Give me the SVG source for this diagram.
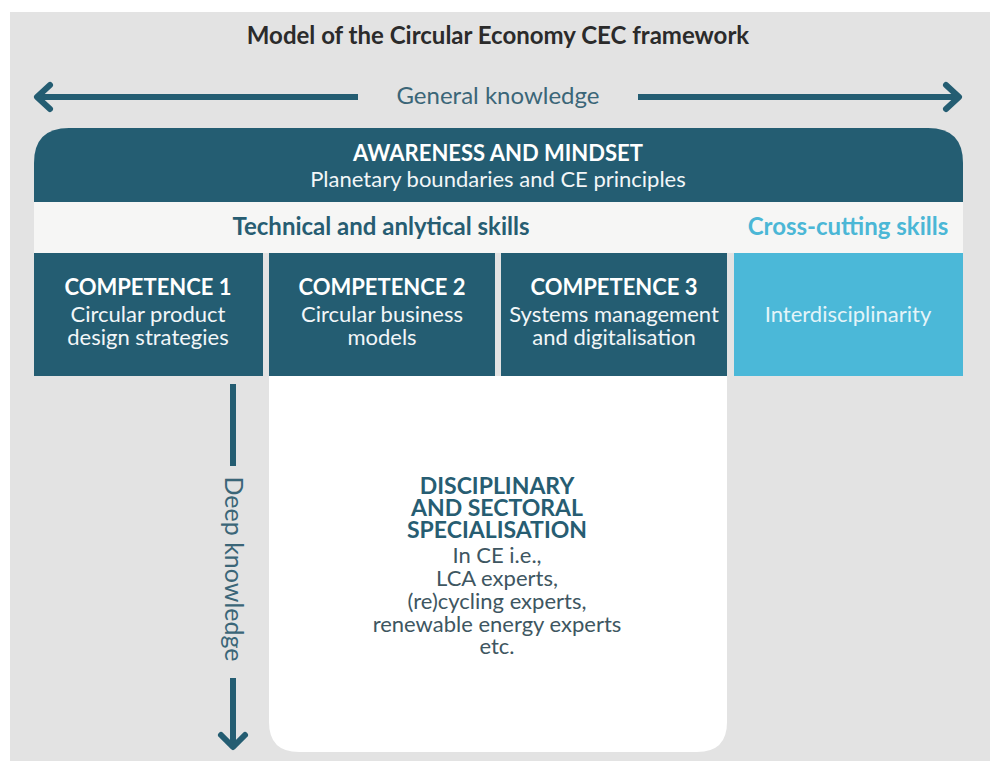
<svg xmlns="http://www.w3.org/2000/svg" width="996" height="761" viewBox="0 0 996 761">
  <style>
    text { font-family: Lato, "Open Sans", "Liberation Sans", sans-serif; text-anchor: middle; }
    .title { font-size: 24px; font-weight: 700; fill: #2b2b2b; }
    .axis { font-size: 24px; fill: #3b6678; }
    .hd { font-size: 22px; font-weight: 700; fill: #ffffff; }
    .sub { font-size: 22px; fill: #f2f6f8; }
    .band { font-size: 24px; font-weight: 700; }
    .spec { font-size: 23px; font-weight: 700; fill: #275d72; }
    .body { font-size: 22px; fill: #3e5661; }
    .dark { fill: #245d72; }
    .line { stroke: #245d72; stroke-width: 6; fill: none; }
    .head { stroke: #245d72; stroke-width: 6; fill: none; stroke-linecap: round; stroke-linejoin: round; }
  </style>

  <!-- page backdrop -->
  <rect x="0" y="0" width="996" height="761" fill="#ffffff"/>
  <rect x="10" y="12" width="980" height="749" fill="#e3e3e3"/>

  <text class="title" x="498" y="44">Model of the Circular Economy CEC framework</text>

  <!-- axes -->
  <g id="connectors">
    <line class="line" x1="38" y1="97" x2="358" y2="97"/>
    <polyline class="head" points="50,85 37,97 50,109"/>
    <line class="line" x1="638" y1="97" x2="958" y2="97"/>
    <polyline class="head" points="946,85 959,97 946,109"/>
    <line class="line" x1="233" y1="384" x2="233" y2="466"/>
    <line class="line" x1="233" y1="678" x2="233" y2="746"/>
    <polyline class="head" points="221,735 233,747 245,735"/>
  </g>
  <text class="axis" x="498" y="104">General knowledge</text>
  <text class="axis" style="font-size:25px" transform="translate(225 569) rotate(90)">Deep knowledge</text>

  <g id="awareness">
    <path class="dark" d="M34 202 V163 Q34 128 69 128 H928 Q963 128 963 163 V202 Z"/>
    <text class="hd" x="498" y="161">AWARENESS AND MINDSET</text>
    <text class="sub" x="498" y="187">Planetary boundaries and CE principles</text>
  </g>

  <g id="skills-band">
    <rect x="34" y="202" width="929" height="51" fill="#f6f6f5"/>
    <text class="band" x="381" y="235" fill="#275d72">Technical and anlytical skills</text>
    <text class="band" x="848" y="235" fill="#4bb7d6">Cross-cutting skills</text>
  </g>

  <g id="competence-1">
    <rect class="dark" x="34" y="253" width="229" height="123"/>
    <text class="hd" x="148" y="295">COMPETENCE 1</text>
    <text class="sub" x="148" y="322">Circular product</text>
    <text class="sub" x="148" y="345">design strategies</text>
  </g>

  <g id="competence-2">
    <rect class="dark" x="269" y="253" width="226" height="123"/>
    <text class="hd" x="382" y="295">COMPETENCE 2</text>
    <text class="sub" x="382" y="322">Circular business</text>
    <text class="sub" x="382" y="345">models</text>
  </g>

  <g id="competence-3">
    <rect class="dark" x="501" y="253" width="226" height="123"/>
    <text class="hd" x="614" y="295">COMPETENCE 3</text>
    <text class="sub" x="614" y="322">Systems management</text>
    <text class="sub" x="614" y="345">and digitalisation</text>
  </g>

  <g id="interdisciplinarity">
    <rect x="734" y="253" width="229" height="123" fill="#4bb8d8"/>
    <text class="sub" x="848" y="322" style="fill:#e4f4f9">Interdisciplinarity</text>
  </g>

  <g id="specialisation">
    <path d="M269 376 H727 V722 Q727 752 697 752 H299 Q269 752 269 722 Z" fill="#ffffff"/>
    <text class="spec" x="497" y="494">DISCIPLINARY</text>
    <text class="spec" x="497" y="516">AND SECTORAL</text>
    <text class="spec" x="497" y="538">SPECIALISATION</text>
    <text class="body" x="497" y="563">In CE i.e.,</text>
    <text class="body" x="497" y="586">LCA experts,</text>
    <text class="body" x="497" y="609">(re)cycling experts,</text>
    <text class="body" x="497" y="632">renewable energy experts</text>
    <text class="body" x="497" y="654">etc.</text>
  </g>
</svg>
